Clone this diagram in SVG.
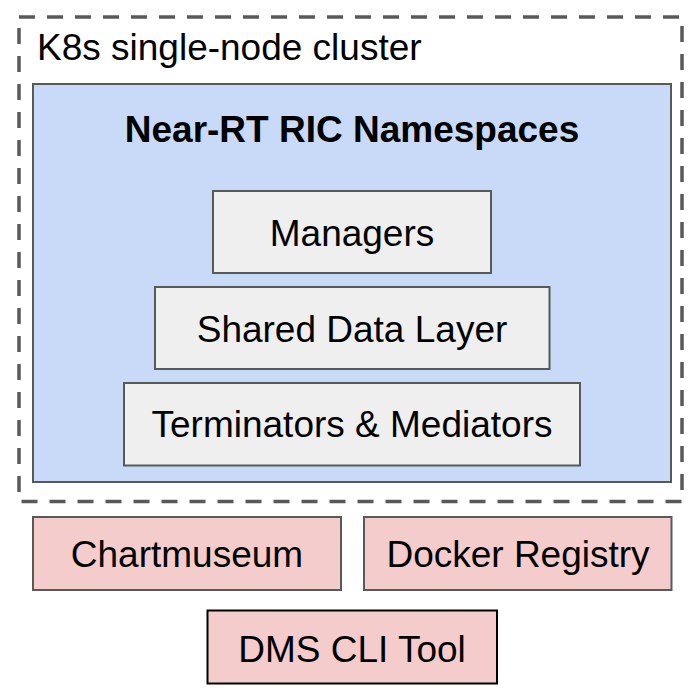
<svg xmlns="http://www.w3.org/2000/svg" width="695" height="694" viewBox="0 0 695 694">
<style>
text{font-family:"Liberation Sans",Arial,sans-serif;fill:#000;font-size:37px;text-anchor:middle}
.cluster{fill:#fff;stroke:#595959;stroke-width:3.5;stroke-dasharray:16 12}
.ns{fill:#c9daf8;stroke:#595959;stroke-width:2}
.comp{fill:#efefef;stroke:#595959;stroke-width:2}
.ext{fill:#f4cccc;stroke:#595959;stroke-width:2}
.cli{fill:#f4cccc;stroke:#000;stroke-width:2}
</style>
<rect width="695" height="694" fill="#fff"/>
<g id="cluster">
<rect class="cluster" x="19" y="17" width="663" height="484.5"/>
<text x="37" y="60" style="text-anchor:start">K8s single-node cluster</text>
</g>
<g id="namespaces">
<rect class="ns" x="33" y="84" width="638" height="398"/>
<text x="352" y="142" font-weight="bold">Near-RT RIC Namespaces</text>
</g>
<g id="managers">
<rect class="comp" x="213" y="191" width="278" height="82"/>
<text x="352" y="246">Managers</text>
</g>
<g id="sdl">
<rect class="comp" x="155" y="287" width="394.5" height="82"/>
<text x="352" y="342">Shared Data Layer</text>
</g>
<g id="terminators">
<rect class="comp" x="124" y="383" width="456" height="82.5"/>
<text x="352" y="437">Terminators &amp; Mediators</text>
</g>
<g id="chartmuseum">
<rect class="ext" x="33" y="517" width="308" height="73"/>
<text x="187" y="567">Chartmuseum</text>
</g>
<g id="registry">
<rect class="ext" x="364" y="517" width="307.5" height="73"/>
<text x="518" y="567">Docker Registry</text>
</g>
<g id="dmscli">
<rect class="cli" x="207.5" y="610.5" width="289.5" height="73"/>
<text x="352" y="662">DMS CLI Tool</text>
</g>
<g id="connectors"></g>
</svg>
